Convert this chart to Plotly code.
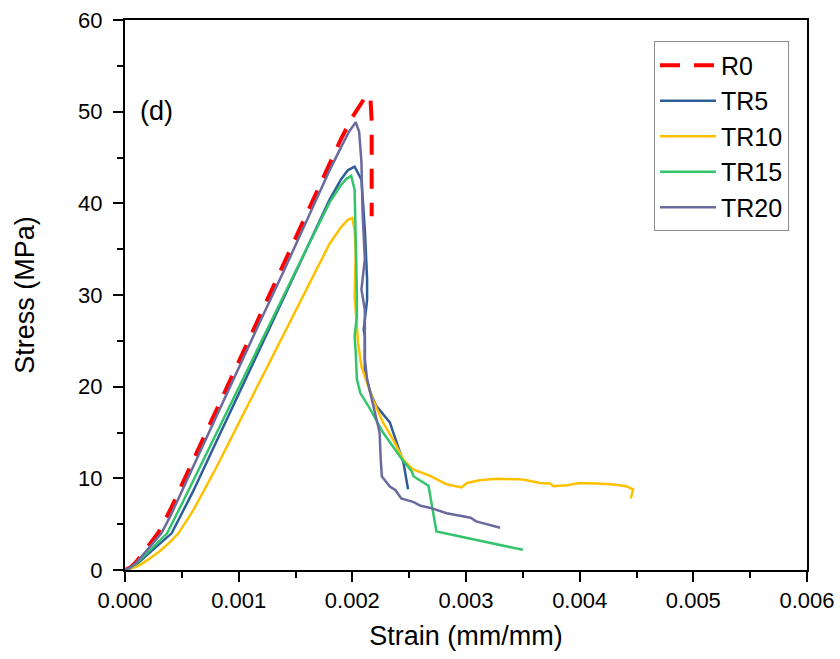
import plotly.graph_objects as go

# ---- data (strain in mm/mm, stress in MPa) ----
strain_R0 = [0, 0.00005, 0.0001, 0.00015, 0.0002, 0.00029, 0.0004, 0.0006, 0.0008, 0.001,
             0.0012, 0.0014, 0.0016, 0.0018, 0.0019, 0.002, 0.00207, 0.00213, 0.00216,
             0.00217, 0.00217, 0.00217]
stress_R0 = [0, 0.3, 0.9, 1.7, 2.5, 4.0, 6.6, 11.9, 17.3, 22.7,
             28.1, 33.5, 38.9, 44.5, 47.0, 49.4, 50.8, 51.9, 51.3,
             49.0, 44.0, 38.6]

strain_TR5 = [0, 0.00005, 0.0001, 0.00015, 0.0002, 0.00041, 0.0006, 0.0008, 0.001, 0.0012,
              0.0014, 0.0016, 0.0018, 0.0019, 0.00196, 0.00202, 0.00208, 0.00211, 0.00212,
              0.00213, 0.00213, 0.0021, 0.00211, 0.00211, 0.00216, 0.00221, 0.00233,
              0.00239, 0.00245, 0.00249]
stress_TR5 = [0, 0.2, 0.6, 1.1, 1.7, 4.0, 8.6, 13.9, 19.2, 24.5,
              29.8, 35.1, 40.4, 42.6, 43.6, 44.0, 42.6, 37.1, 33.9,
              31.7, 29.5, 26.2, 25.5, 21.5, 19.3, 17.9, 16.1,
              13.9, 11.7, 8.8]

strain_TR10 = [0, 0.00005, 0.0001, 0.00015, 0.0002, 0.0003, 0.0004, 0.00047, 0.0006, 0.0008,
               0.001, 0.0012, 0.0014, 0.0016, 0.0018, 0.0019, 0.00196, 0.002, 0.00202,
               0.00203, 0.00202, 0.00204, 0.00205, 0.00208, 0.00213, 0.00218, 0.00227,
               0.00236, 0.00245, 0.00253, 0.00268, 0.00283, 0.00296, 0.00301, 0.00312,
               0.00327, 0.0035, 0.00365, 0.00374, 0.00377, 0.00389, 0.004, 0.00415,
               0.0043, 0.00441, 0.00447, 0.00445]
stress_TR10 = [0, 0.15, 0.35, 0.7, 1.1, 2.0, 3.1, 4.0, 6.5, 11.1,
               16.0, 21.0, 25.9, 30.8, 35.6, 37.4, 38.2, 38.4, 37.1,
               34.6, 29.9, 26.6, 24.8, 22.2, 20.5, 18.6, 16.1,
               14.2, 12.0, 11.0, 10.3, 9.35, 9.0, 9.5, 9.8,
               9.95, 9.87, 9.5, 9.44, 9.14, 9.25, 9.5, 9.44,
               9.33, 9.14, 8.78, 7.8]

strain_TR15 = [0, 0.00005, 0.0001, 0.00015, 0.0002, 0.00037, 0.0005, 0.0007, 0.001, 0.0012,
               0.0014, 0.0016, 0.0018, 0.0019, 0.00195, 0.00199, 0.00202, 0.00203, 0.00204,
               0.00204, 0.00204, 0.00202, 0.00203, 0.00204, 0.00207, 0.00216, 0.00227,
               0.00243, 0.00252, 0.00254, 0.00267, 0.00274, 0.0035]
stress_TR15 = [0, 0.25, 0.7, 1.3, 2.0, 4.0, 7.2, 12.3, 19.8, 24.9,
               30.0, 35.1, 40.1, 42.0, 42.7, 43.0, 41.5, 37.1, 31.7,
               30.2, 27.7, 25.5, 23.7, 20.8, 19.3, 17.5, 15.0,
               12.2, 10.8, 10.2, 9.2, 4.2, 2.2]

strain_TR20 = [0, 0.00005, 0.0001, 0.00015, 0.0002, 0.00032, 0.0004, 0.0006, 0.0008, 0.001,
               0.0012, 0.0014, 0.0016, 0.0018, 0.0019, 0.00197, 0.00203, 0.00206, 0.00208,
               0.00209, 0.00211, 0.00208, 0.00211, 0.00211, 0.00213, 0.00224, 0.00225,
               0.00226, 0.00233, 0.00238, 0.00243, 0.00254, 0.0026, 0.00268, 0.00283,
               0.00304, 0.00309, 0.0033]
stress_TR20 = [0, 0.3, 0.8, 1.5, 2.3, 4.0, 5.9, 11.3, 16.6, 22.0,
               27.4, 32.7, 38.1, 43.6, 46.1, 47.8, 48.85, 47.8, 44.5,
               39.0, 33.9, 30.6, 28.4, 23.0, 20.8, 15.0, 12.0,
               10.2, 9.1, 8.7, 7.8, 7.4, 7.0, 6.8, 6.2,
               5.7, 5.3, 4.6]

x_ticks = [0, 0.001, 0.002, 0.003, 0.004, 0.005, 0.006]
x_tick_labels = ["0.000", "0.001", "0.002", "0.003", "0.004", "0.005", "0.006"]
y_ticks = [0, 10, 20, 30, 40, 50, 60]

series = [
    ("R0", strain_R0, stress_R0, "#FF0000", "dash"),
    ("TR5", strain_TR5, stress_TR5, "#2E5E9A", "solid"),
    ("TR10", strain_TR10, stress_TR10, "#FFC000", "solid"),
    ("TR15", strain_TR15, stress_TR15, "#33C46C", "solid"),
    ("TR20", strain_TR20, stress_TR20, "#6A6A9F", "solid"),
]

FONT = "Liberation Sans, Arial, sans-serif"

fig = go.Figure()
for name, xs, ys, color, dash in series:
    if dash == "dash":
        line = dict(color=color, width=4, dash="20px,14px")
    else:
        line = dict(color=color, width=2.5)
    fig.add_trace(go.Scatter(x=xs, y=ys, mode="lines", name=name, line=line))

fig.add_annotation(x=0.00028, y=50.1, xref="x", yref="y", text="(d)", showarrow=False,
                   font=dict(family=FONT, size=27, color="black"))

axis_common = dict(
    showgrid=False, zeroline=False, showline=True, linecolor="black", linewidth=2,
    mirror=True, ticks="outside", ticklen=10, tickwidth=2, tickcolor="black",
    tickfont=dict(family=FONT, size=22, color="black"),
    ticklabeloverflow="allow",
)

fig.update_xaxes(range=[0, 0.006], tickvals=x_ticks, ticktext=x_tick_labels,
                 minor=dict(ticks="outside", ticklen=6, tickwidth=2, tickcolor="black", dtick=0.0005),
                 title=dict(text="Strain (mm/mm)", font=dict(family=FONT, size=27, color="black"),
                            standoff=14),
                 **axis_common)
fig.update_yaxes(range=[0, 60], tickvals=y_ticks,
                 minor=dict(ticks="outside", ticklen=6, tickwidth=2, tickcolor="black", dtick=5),
                 title=dict(text="Stress (MPa)", font=dict(family=FONT, size=27, color="black"),
                            standoff=36),
                 ticklabelstandoff=6,
                 **axis_common)

fig.update_layout(
    width=840, height=659,
    margin=dict(l=125, r=33, t=20, b=89, autoexpand=False),
    paper_bgcolor="white", plot_bgcolor="white",
    font=dict(family=FONT, color="black"),
    legend=dict(x=0.9736, y=0.961, xanchor="right", yanchor="top",
                bgcolor="white", bordercolor="#8c8c8c", borderwidth=1,
                itemwidth=56,
                font=dict(family=FONT, size=25, color="black")),
    showlegend=True,
)

# remove the browser's default 8px body margin so the figure fills the window exactly
fig.write_html("out.html",
               config={"displayModeBar": False},
               post_script="document.body.style.margin='0';document.body.style.overflow='hidden';")
